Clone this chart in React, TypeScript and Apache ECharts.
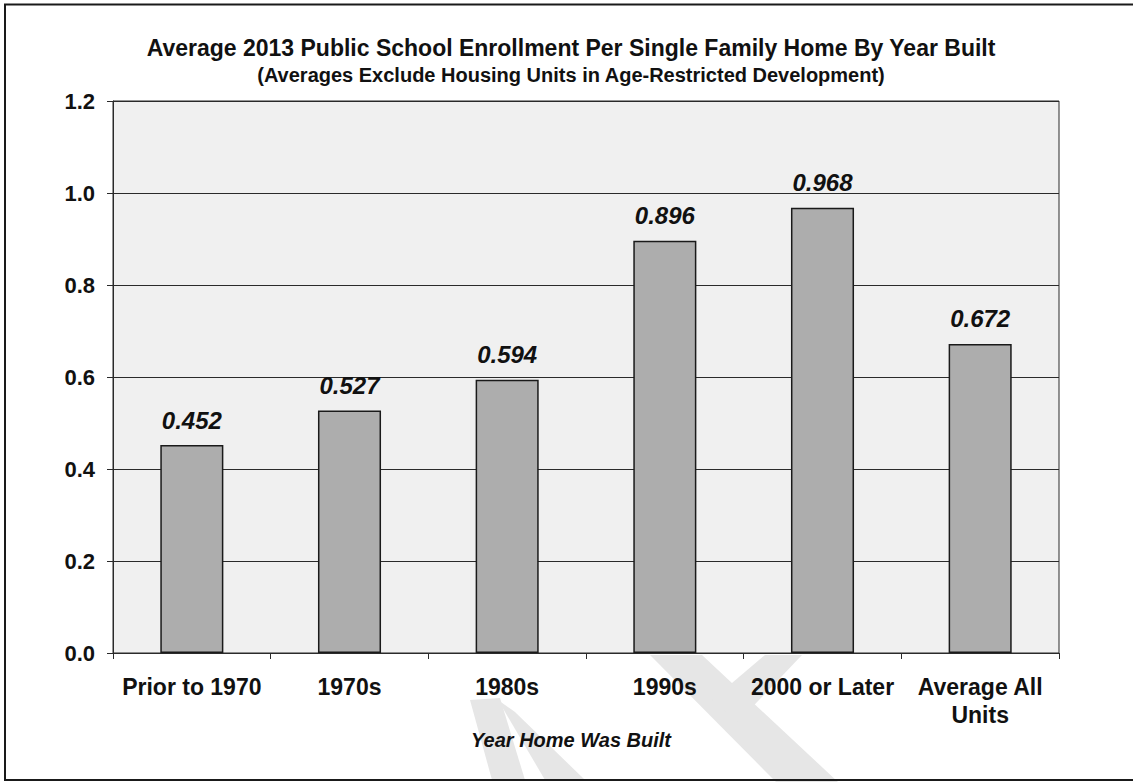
import React, { useEffect, useRef } from "react";
import * as echarts from "echarts";

const categories = ["Prior to 1970", "1970s", "1980s", "1990s", "2000 or Later", "Average All\nUnits"];
const values = [0.452, 0.527, 0.594, 0.896, 0.968, 0.672];
const titleText = "Average 2013 Public School Enrollment Per Single Family Home By Year Built";
const subtitleText = "(Averages Exclude Housing Units in Age-Restricted Development)";
const xAxisTitle = "Year Home Was Built";
const yMin = 0;
const yMax = 1.2;
const yStep = 0.2;

const FONT = "'Liberation Sans', Arial, Helvetica, sans-serif";
const INK = "#111111";
const WM = "#e6e6e6";

export default function App() {
  const ref = useRef<HTMLDivElement>(null);
  useEffect(() => {
    document.body.style.margin = "0";
    if (!ref.current) return;
    const chart = echarts.init(ref.current, null, { renderer: "svg" });
    chart.setOption({
      animation: false,
      backgroundColor: "#ffffff",
      grid: {
        left: 113,
        top: 101,
        right: 74,
        bottom: 129,
        show: true,
        backgroundColor: "#f0f0f0",
        borderColor: "#2a2a2a",
        borderWidth: 1,
        containLabel: false,
      },
      xAxis: {
        type: "category",
        data: categories,
        axisLine: { show: true, lineStyle: { color: "#2a2a2a", width: 1 } },
        axisTick: { show: true, length: 6, lineStyle: { color: "#2a2a2a" } },
        axisLabel: {
          margin: 20,
          color: INK,
          fontFamily: FONT,
          fontWeight: "bold",
          fontSize: 23,
          lineHeight: 28,
          interval: 0,
        },
        splitLine: { show: false },
      },
      yAxis: {
        type: "value",
        min: yMin,
        max: yMax,
        interval: yStep,
        axisLine: { show: true, lineStyle: { color: "#2a2a2a", width: 1 } },
        axisTick: { show: true, length: 6, lineStyle: { color: "#2a2a2a" } },
        axisLabel: {
          margin: 18,
          color: INK,
          fontFamily: FONT,
          fontWeight: "bold",
          fontSize: 22,
          formatter: (v: number) => v.toFixed(1),
        },
        splitLine: { show: true, lineStyle: { color: "#2a2a2a", width: 1 } },
      },
      series: [
        {
          type: "bar",
          data: values,
          barCategoryGap: "60%",
          itemStyle: { color: "#adadad", borderColor: "#1a1a1a", borderWidth: 1.5 },
          label: {
            show: true,
            position: "top",
            distance: 13,
            color: INK,
            fontFamily: FONT,
            fontWeight: "bold",
            fontStyle: "italic",
            fontSize: 24,
            formatter: (p: any) => Number(p.value).toFixed(3),
          },
          z: 3,
        },
      ],
      graphic: [
        { type: "polygon", silent: true, z: -10, shape: { points: [[650, 655], [702, 655], [838, 782], [776, 782]] }, style: { fill: WM } },
        { type: "polygon", silent: true, z: -10, shape: { points: [[765, 655], [802, 655], [738, 722], [712, 700]] }, style: { fill: WM } },
        { type: "polygon", silent: true, z: -10, shape: { points: [[470, 700], [500, 698], [525, 780], [492, 780]] }, style: { fill: WM } },
        { type: "polygon", silent: true, z: -10, shape: { points: [[498, 700], [515, 712], [585, 780], [545, 780]] }, style: { fill: WM } },
        {
          type: "rect",
          silent: true,
          z: 100,
          shape: { x: 5, y: 4.5, width: 1200, height: 775.5 },
          style: { fill: "none", stroke: "#1a1a1a", lineWidth: 2 },
        },
        {
          type: "text",
          z: 100,
          x: 571,
          y: 48,
          style: {
            text: titleText,
            fill: INK,
            font: `bold 23px ${FONT}`,
            textAlign: "center",
            textVerticalAlign: "middle",
          },
        },
        {
          type: "text",
          z: 100,
          x: 571,
          y: 75,
          style: {
            text: subtitleText,
            fill: INK,
            font: `bold 20px ${FONT}`,
            textAlign: "center",
            textVerticalAlign: "middle",
          },
        },
        {
          type: "text",
          z: 100,
          x: 571,
          y: 740,
          style: {
            text: xAxisTitle,
            fill: INK,
            font: `italic bold 20px ${FONT}`,
            textAlign: "center",
            textVerticalAlign: "middle",
          },
        },
      ],
    });
    return () => chart.dispose();
  }, []);
  return <div ref={ref} style={{ width: 1133, height: 782 }} />;
}
